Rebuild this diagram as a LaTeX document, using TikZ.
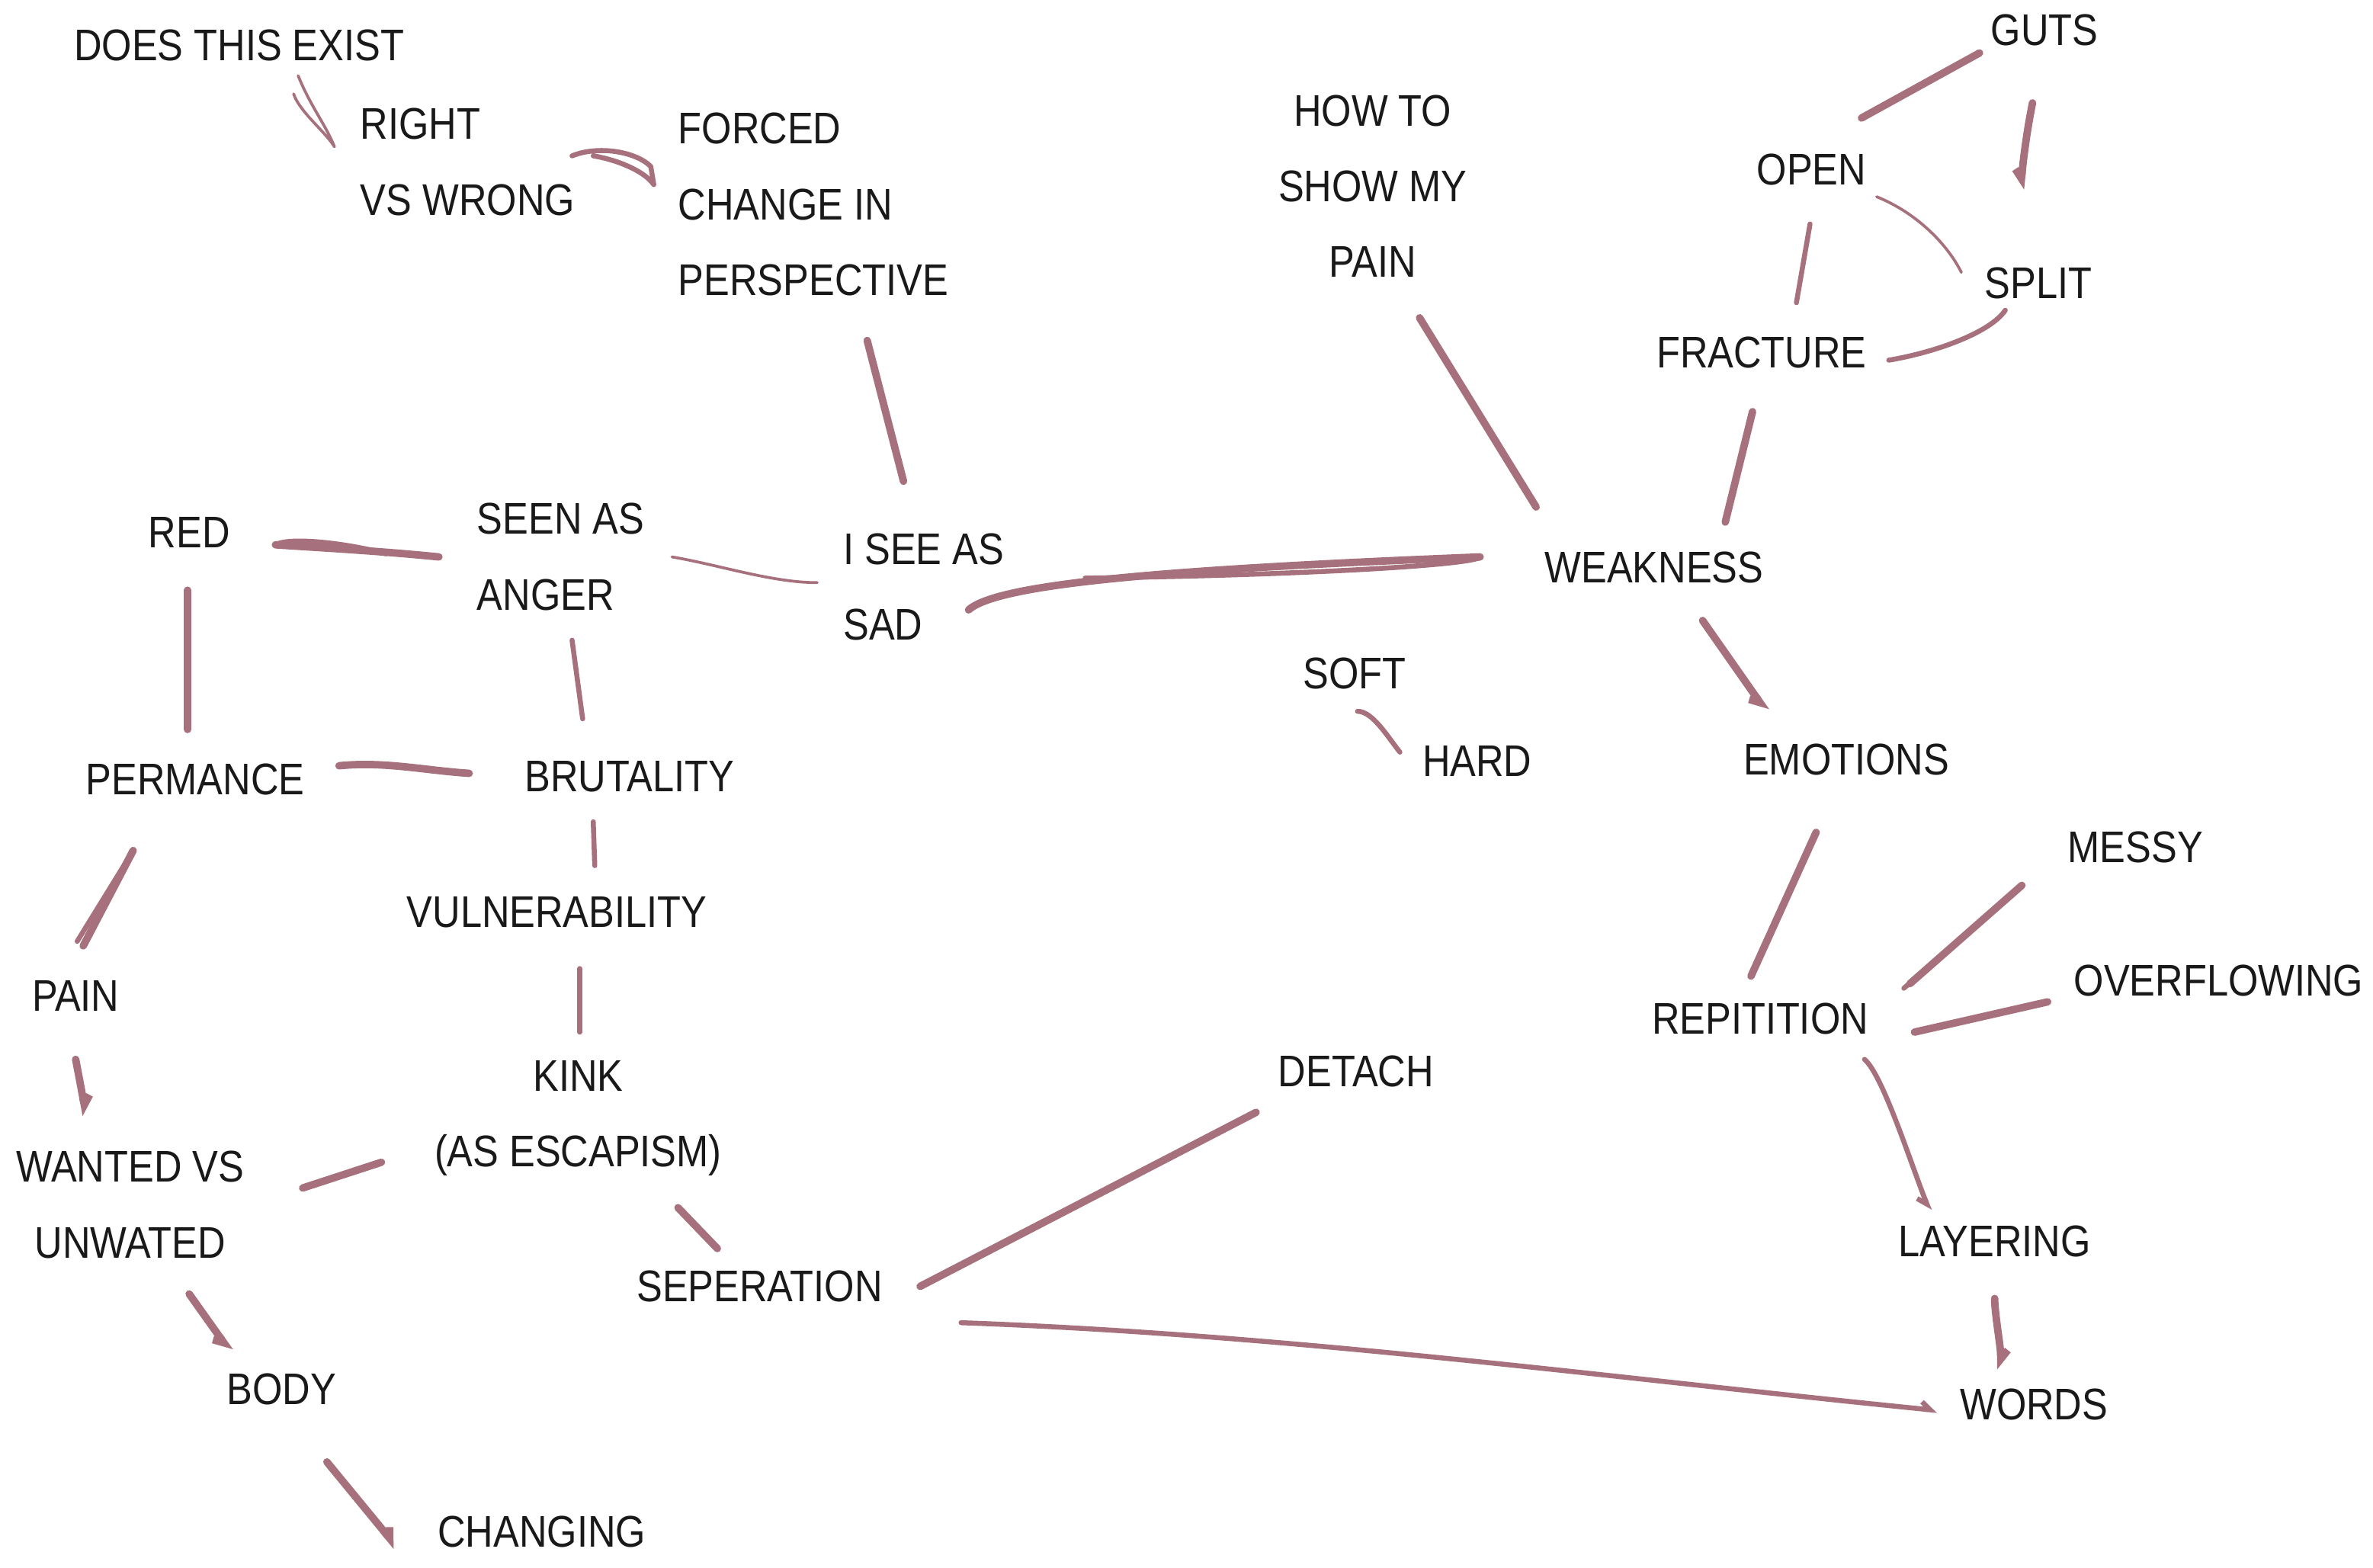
\documentclass[tikz,border=0pt]{standalone}
\usepackage{fontspec}
\setmainfont{Liberation Sans}[FakeStretch=0.87]
\usetikzlibrary{arrows.meta}
\definecolor{rose}{RGB}{166,112,124}
\begin{document}
\begin{tikzpicture}[x=0.3mm,y=-0.3mm,
  lbl/.style={inner sep=0pt,font=\fontsize{25}{42.7}\selectfont,text=black!90},
  lblc/.style={lbl,align=center},
  lbll/.style={lbl,align=left,anchor=west},
  link/.style={draw=rose,line width=4.2pt,line cap=round,line join=round},
  medlink/.style={draw=rose,line width=2.8pt,line cap=round,line join=round},
  thinlink/.style={draw=rose,line width=1.6pt,line cap=round,line join=round},
  barb/.style={-{Straight Barb[harpoon,length=5pt,width=8pt]}},
  barbr/.style={-{Straight Barb[harpoon,swap,length=5pt,width=8pt]}},
]
\useasboundingbox[fill=white] (0,0) rectangle (1568,1036);

% nodes
\node[lbl] (exist) at (158,30) {DOES THIS EXIST};
\node[lbll] (right) at (238,107) {RIGHT\\VS WRONG};
\node[lbll] (forced) at (448,135) {FORCED\\CHANGE IN\\PERSPECTIVE};
\node[lblc] (howto) at (907,123) {HOW TO\\SHOW MY\\PAIN};
\node[lbl] (guts) at (1351,20) {GUTS};
\node[lbl] (open) at (1197,112) {OPEN};
\node[lbl] (split) at (1347,187) {SPLIT};
\node[lbl] (fracture) at (1164,233) {FRACTURE};
\node[lbl] (red) at (125,352) {RED};
\node[lbll] (seen) at (315,368) {SEEN AS\\ANGER};
\node[lbll] (isee) at (557,388) {I SEE AS\\SAD};
\node[lbl] (weak) at (1093,375) {WEAKNESS};
\node[lbl] (soft) at (895,445) {SOFT};
\node[lbl] (hard) at (976,503) {HARD};
\node[lbl] (perm) at (129,515) {PERMANCE};
\node[lbl] (brut) at (416,513) {BRUTALITY};
\node[lbl] (emot) at (1220,502) {EMOTIONS};
\node[lbl] (vuln) at (368,603) {VULNERABILITY};
\node[lbl] (pain) at (50,658) {PAIN};
\node[lbl] (messy) at (1411,560) {MESSY};
\node[lbl] (overf) at (1466,648) {OVERFLOWING};
\node[lbl] (repit) at (1163,673) {REPITITION};
\node[lblc] (kink) at (382,739) {KINK\\(AS ESCAPISM)};
\node[lbl] (detach) at (896,708) {DETACH};
\node[lblc] (wanted) at (86,796) {WANTED VS\\UNWATED};
\node[lbl] (layer) at (1318,820) {LAYERING};
\node[lbl] (sep) at (502,850) {SEPERATION};
\node[lbl] (body) at (186,918) {BODY};
\node[lbl] (words) at (1344,928) {WORDS};
\node[lbl] (chang) at (358,1012) {CHANGING};

% connectors
\draw[thinlink] ([shift={(39,20)}]exist.center) .. controls +(8,20) and +(-6,-15) .. ([shift={(-17,-10)}]right.west) .. controls +(-6,-10) and +(4,12) .. ([shift={(-44,-45)}]right.west);
\draw[medlink] ([shift={(140,-4)}]right.west) .. controls +(17,-7) and +(-10,-10) .. ([shift={(-18,-25)}]forced.west) -- ([shift={(-16,-13)}]forced.west) .. controls +(-7,-10) and +(13,2) .. ([shift={(-56,-32)}]forced.west);
\draw[link] ([shift={(125,90)}]forced.west) -- ([shift={(40,-70)}]isee.west);
\draw[link] ([shift={(31,87)}]howto.center) -- ([shift={(-78,-40)}]weak.center);
\draw[link] ([shift={(83,15)}]isee.west) .. controls +(20,-18) and +(-200,8) .. ([shift={(-115,-7)}]weak.center);
\draw[medlink] ([shift={(-115,-7)}]weak.center) .. controls +(-2,5) and +(150,-2) .. ([shift={(160,-6)}]isee.west);
\draw[link] ([shift={(-6,39)}]fracture.center) -- ([shift={(47,-30)}]weak.center);
\draw[link,barbr] ([shift={(32,35)}]weak.center) -- ([shift={(-53,-32)}]emot.center);
\draw[link] ([shift={(-20,48)}]emot.center) -- ([shift={(-6,-28)}]repit.center);
\draw[link] ([shift={(-75,25)}]messy.center) -- ([shift={(99,-23)}]repit.center);
\draw[medlink] ([shift={(-75,25)}]messy.center) -- ([shift={(95,-20)}]repit.center);
\draw[link] ([shift={(-113,14)}]overf.center) -- ([shift={(102,9)}]repit.center);
\draw[medlink,barbr] ([shift={(69,27)}]repit.center) .. controls +(12,10) and +(-12,-30) .. ([shift={(-43,-20)}]layer.center);
\draw[link,barb] ([shift={(0,38)}]layer.center) .. controls +(0,10) and +(0,-15) .. ([shift={(-22,-23)}]words.center);
\draw[medlink,barb] ([shift={(133,24)}]sep.center) .. controls +(220,8) and +(-220,-22) .. ([shift={(-64,4)}]words.center);
\draw[link] ([shift={(106,0)}]sep.center) -- ([shift={(-66,27)}]detach.center);
\draw[link] ([shift={(66,59)}]kink.center) -- ([shift={(-28,-25)}]sep.center);
\draw[link] ([shift={(-130,29)}]kink.center) -- ([shift={(114,-11)}]wanted.center);
\draw[medlink] ([shift={(15,37)}]vuln.center) -- ([shift={(1,-57)}]kink.center);
\draw[medlink] ([shift={(-24,30)}]brut.center) -- ([shift={(25,-31)}]vuln.center);
\draw[medlink] ([shift={(63,55)}]seen.west) -- ([shift={(-31,-38)}]brut.center);
\draw[link] ([shift={(95,-9)}]perm.center) .. controls +(30,-3) and +(-30,-2) .. ([shift={(-106,-2)}]brut.center);
\draw[link] ([shift={(57,8)}]red.center) .. controls +(30,2) and +(-40,-4) .. ([shift={(-25,0)}]seen.west);
\draw[medlink] ([shift={(57,8)}]red.center) .. controls +(10,-6) and +(-20,-6) .. ([shift={(-60,-2)}]seen.west);
\draw[thinlink] ([shift={(129,0)}]seen.west) .. controls +(30,5) and +(-30,0) .. ([shift={(-17,-3)}]isee.west);
\draw[link] ([shift={(-1,38)}]red.center) -- ([shift={(-5,-33)}]perm.center);
\draw[link] ([shift={(-41,47)}]perm.center) -- ([shift={(5,-33)}]pain.center);
\draw[medlink] ([shift={(-41,47)}]perm.center) -- ([shift={(1,-36)}]pain.center);
\draw[link,barb] ([shift={(0,42)}]pain.center) -- ([shift={(-29,-59)}]wanted.center);
\draw[link,barbr] ([shift={(39,59)}]wanted.center) -- ([shift={(-34,-25)}]body.center);
\draw[link,barb] ([shift={(30,48)}]body.center) -- ([shift={(-96,10)}]chang.center);
\draw[medlink] ([shift={(2,25)}]soft.center) .. controls +(10,0) and +(-8,-10) .. ([shift={(-51,-6)}]hard.center);
\draw[link] ([shift={(33,-34)}]open.center) -- ([shift={(-43,15)}]guts.center);
\draw[link,barbr] ([shift={(-8,48)}]guts.center) .. controls +(-4,20) and +(2,-20) .. ([shift={(-12,-62)}]split.center);
\draw[medlink] ([shift={(-1,36)}]open.center) -- ([shift={(23,-33)}]fracture.center);
\draw[thinlink] ([shift={(43,18)}]open.center) .. controls +(25,10) and +(-10,-20) .. ([shift={(-51,-7)}]split.center);
\draw[medlink] ([shift={(-22,18)}]split.center) .. controls +(-10,15) and +(30,-5) .. ([shift={(84,5)}]fracture.center);
\end{tikzpicture}
\end{document}
